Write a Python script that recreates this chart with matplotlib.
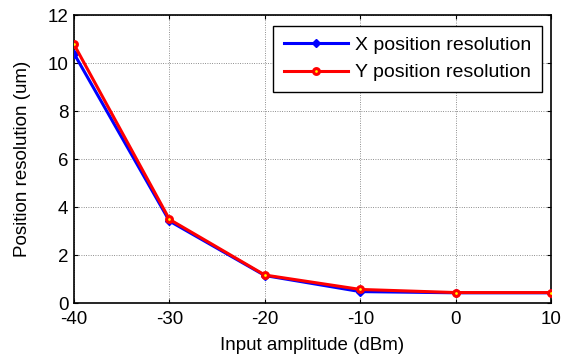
import matplotlib
matplotlib.use("Agg")
import matplotlib.pyplot as plt

# Input amplitude sweep and measured position resolution
amplitude_dbm = [-40, -30, -20, -10, 0, 10]
x_resolution = [10.40, 3.42, 1.15, 0.48, 0.43, 0.43]
y_resolution = [10.78, 3.49, 1.17, 0.57, 0.44, 0.44]

x_ticks = [-40, -30, -20, -10, 0, 10]
y_ticks = [0, 2, 4, 6, 8, 10, 12]

plt.rcParams["font.family"] = ["Liberation Sans", "DejaVu Sans"]
plt.rcParams["axes.unicode_minus"] = False
FS = 13.5

fig = plt.figure(figsize=(5.67, 3.6), dpi=100)
ax = fig.add_axes([0.1305, 0.158, 0.8415, 0.8])

ax.plot(amplitude_dbm, x_resolution, color="#0000ff", lw=2.2, marker="D",
        ms=4, mfc="#0000ff", mec="#0000ff", label="X position resolution", zorder=3)
ax.plot(amplitude_dbm, y_resolution, color="#ff0000", lw=2.2, marker="o",
        ms=4.2, mfc="#ffff00", mec="#ff0000", mew=2.2, label="Y position resolution", zorder=4)

ax.set_xlim(-40, 10)
ax.set_ylim(0, 12)
ax.set_xticks(x_ticks)
ax.set_yticks(y_ticks)
ax.tick_params(direction="in", top=True, right=True, length=3, width=0.8,
               labelsize=FS)
ax.tick_params(axis="x", pad=6)
ax.tick_params(axis="y", pad=4)
ax.grid(True, color="#6a6a6a", linestyle=(0, (1, 1.8)), linewidth=0.6)
for s in ax.spines.values():
    s.set_linewidth(1.2)

ax.set_xlabel("Input amplitude (dBm)", fontsize=FS, labelpad=6)
ax.set_ylabel("Position resolution (um)", fontsize=FS, labelpad=12)

leg = ax.legend(loc="upper right", bbox_to_anchor=(0.98, 0.963), fontsize=14,
                frameon=True, fancybox=False, edgecolor="black", framealpha=1,
                handlelength=3.3, handletextpad=0.35, borderpad=0.55,
                labelspacing=0.5, borderaxespad=0)
leg.get_frame().set_linewidth(1.0)

fig.savefig("out.png", dpi=100)
